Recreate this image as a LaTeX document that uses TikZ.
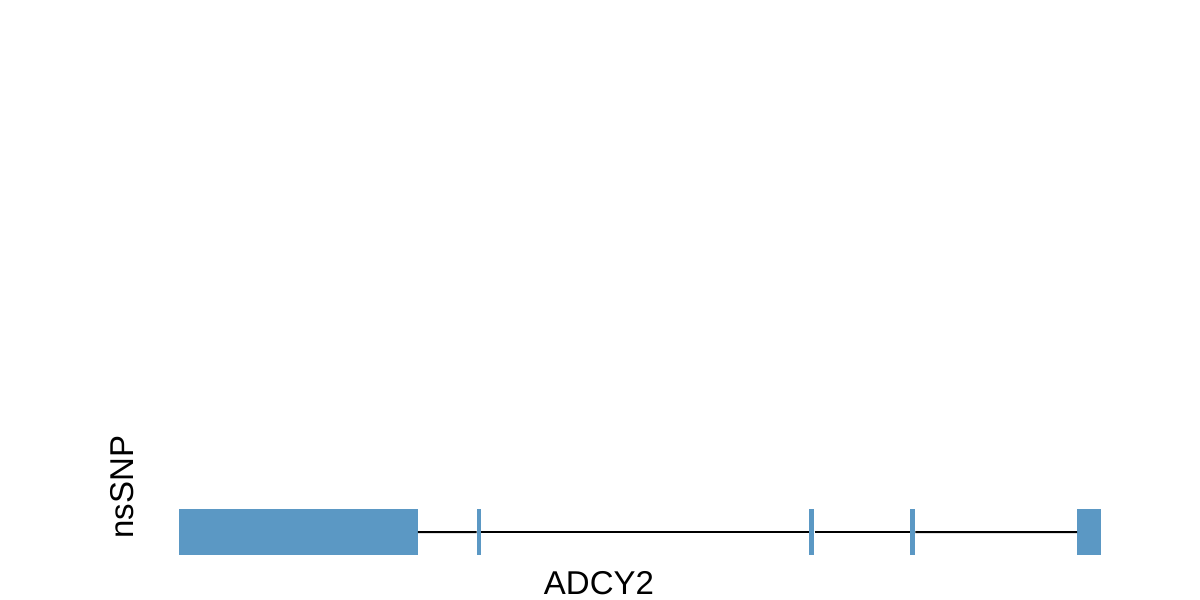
\documentclass[tikz,border=0pt]{standalone}
\usepackage{fontspec}
\setmainfont{Liberation Sans}
\definecolor{exonblue}{RGB}{91,152,196}
\begin{document}
\begin{tikzpicture}[x=1pt,y=-1pt,
  exon/.style={fill=exonblue,draw=none},
  intron/.style={line width=2pt,black},
  lbl/.style={inner sep=0pt,font=\fontsize{33}{33}\selectfont}]
\useasboundingbox (0,0) rectangle (1200,600);
\node[exon,minimum width=238.5pt,minimum height=46pt,inner sep=0pt,anchor=north west] (e1) at (179,509) {};
\node[exon,minimum width=4.5pt,minimum height=46pt,inner sep=0pt] (e2) at (479,532) {};
\node[exon,minimum width=5pt,minimum height=46pt,inner sep=0pt] (e3) at (811.8,532) {};
\node[exon,minimum width=5pt,minimum height=46pt,inner sep=0pt] (e4) at (912.6,532) {};
\node[exon,minimum width=23.5pt,minimum height=46pt,inner sep=0pt,anchor=north west] (e5) at (1077,509) {};
\draw[intron] (e1.east) -- (e2.west);
\draw[intron] (e2.east) -- (e3.west);
\draw[intron] (e3.east) -- (e4.west);
\draw[intron] (e4.east) -- (e5.west);
\node[lbl,anchor=base] (gene) at (599,594.5) {ADCY2};
\node[lbl,anchor=base,rotate=90] (track) at (133,487) {nsSNP};
\end{tikzpicture}
\end{document}
